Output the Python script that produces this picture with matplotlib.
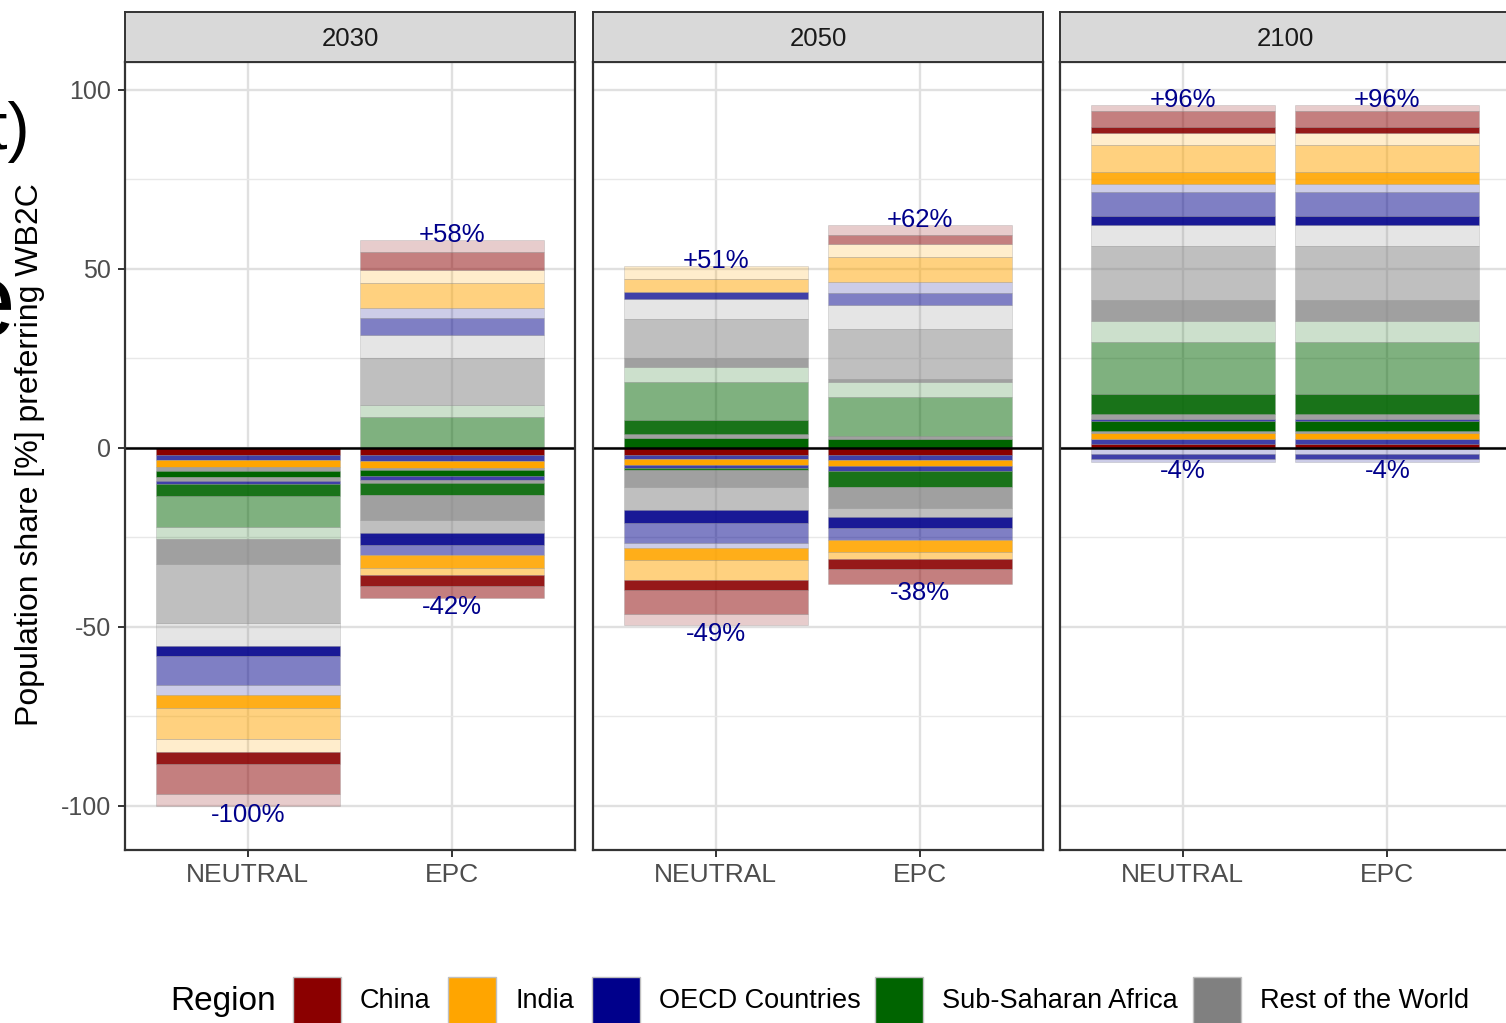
import matplotlib.pyplot as plt
from matplotlib.colors import to_rgba
from matplotlib.patches import Rectangle

plt.rcParams['font.family'] = ['Liberation Sans', 'DejaVu Sans']
plt.rcParams['axes.unicode_minus'] = False

years = ["2030", "2050", "2100"]
scenarios = ["NEUTRAL", "EPC"]

region_codes = ["C", "I", "O", "S", "R"]
region_labels = ["China", "India", "OECD Countries", "Sub-Saharan Africa", "Rest of the World"]
region_colors = ["#8B0000", "#FFA500", "#00008B", "#006400", "#808080"]

# preference tier of each population group: 1 = strongest ... 5 = weakest
tier_alpha = {1: 1.0, 2: 0.9, 3: 0.75, 4: 0.5, 5: 0.2}

# (region, tier, population share %) stacked outwards from zero
neutral_2030_up = []
neutral_2030_down = [
    ("C", 1, 2.0), ("O", 3, 1.3), ("I", 1, 2.1), ("R", 3, 1.1), ("S", 1, 1.6),
    ("R", 3, 1.0), ("O", 3, 0.9), ("S", 2, 3.5), ("S", 4, 8.6), ("S", 5, 3.3),
    ("R", 3, 7.0), ("R", 4, 16.4), ("R", 5, 6.5), ("O", 2, 2.8), ("O", 4, 8.0),
    ("O", 5, 3.0), ("I", 2, 3.4), ("I", 4, 8.8), ("I", 5, 3.7), ("C", 2, 3.3),
    ("C", 4, 8.4), ("C", 5, 3.3),
]
epc_2030_up = [
    ("S", 4, 8.6), ("S", 5, 3.4), ("R", 4, 13.0), ("R", 5, 6.5), ("O", 4, 4.7),
    ("O", 5, 2.8), ("I", 4, 7.2), ("I", 5, 3.4), ("C", 4, 5.2), ("C", 5, 3.4),
]
epc_2030_down = [
    ("C", 1, 2.1), ("O", 3, 1.6), ("I", 1, 1.9), ("R", 3, 0.6), ("S", 1, 1.7),
    ("O", 3, 1.0), ("R", 3, 0.9), ("S", 2, 3.4), ("R", 3, 6.8), ("R", 4, 3.7),
    ("O", 2, 3.3), ("O", 4, 2.8), ("I", 2, 3.7), ("I", 4, 1.9), ("C", 2, 3.3),
    ("C", 4, 3.3),
]
neutral_2050_up = [
    ("S", 1, 2.7), ("R", 3, 1.1), ("S", 2, 4.0), ("S", 4, 10.5), ("S", 5, 4.4),
    ("R", 3, 2.3), ("R", 4, 11.0), ("R", 5, 5.5), ("O", 3, 2.0), ("I", 4, 3.7),
    ("I", 5, 3.7),
]
neutral_2050_down = [
    ("C", 1, 1.9), ("O", 3, 1.2), ("I", 1, 1.8), ("O", 3, 0.7), ("S", 2, 0.7),
    ("R", 3, 4.7), ("R", 4, 6.3), ("O", 2, 3.7), ("O", 4, 5.6), ("O", 5, 1.4),
    ("I", 2, 3.4), ("I", 4, 5.4), ("C", 2, 2.8), ("C", 4, 6.8), ("C", 5, 3.0),
]
epc_2050_up = [
    ("S", 1, 2.4), ("R", 3, 0.9), ("S", 4, 11.0), ("S", 5, 4.2), ("R", 3, 0.7),
    ("R", 4, 14.1), ("R", 5, 6.5), ("O", 4, 3.5), ("O", 5, 3.0), ("I", 4, 7.1),
    ("I", 5, 3.6), ("C", 4, 2.6), ("C", 5, 2.8),
]
epc_2050_down = [
    ("C", 1, 1.9), ("O", 3, 1.4), ("I", 1, 1.7), ("O", 3, 1.4), ("S", 2, 4.4),
    ("R", 3, 5.9), ("R", 4, 2.7), ("O", 2, 3.1), ("O", 4, 3.3), ("I", 2, 3.4),
    ("I", 4, 1.7), ("C", 2, 2.8), ("C", 4, 4.2),
]
neutral_2100_up = [
    ("C", 1, 1.1), ("O", 3, 1.3), ("I", 1, 1.7), ("R", 3, 0.7), ("S", 1, 2.8),
    ("O", 3, 0.6), ("R", 3, 1.3), ("S", 2, 5.6), ("S", 4, 14.6), ("S", 5, 5.8),
    ("R", 3, 5.9), ("R", 4, 15.1), ("R", 5, 5.9), ("O", 2, 2.5), ("O", 4, 6.5),
    ("O", 5, 2.3), ("I", 2, 3.3), ("I", 4, 7.7), ("I", 5, 3.3), ("C", 2, 1.7),
    ("C", 4, 4.3), ("C", 5, 1.9),
]
neutral_2100_down = [("O", 5, 1.6), ("O", 3, 1.4), ("O", 5, 0.9)]
epc_2100_up = list(neutral_2100_up)
epc_2100_down = list(neutral_2100_down)

stacks = {
    ("2030", "NEUTRAL"): (neutral_2030_up, neutral_2030_down),
    ("2030", "EPC"): (epc_2030_up, epc_2030_down),
    ("2050", "NEUTRAL"): (neutral_2050_up, neutral_2050_down),
    ("2050", "EPC"): (epc_2050_up, epc_2050_down),
    ("2100", "NEUTRAL"): (neutral_2100_up, neutral_2100_down),
    ("2100", "EPC"): (epc_2100_up, epc_2100_down),
}

color_of = dict(zip(region_codes, region_colors))

W, H = 1506, 1023
fig = plt.figure(figsize=(W / 100, H / 100), dpi=100)


def box(left, top, right, bottom):
    return [left / W, 1 - bottom / H, (right - left) / W, (bottom - top) / H]


def draw_stack(ax, x, segs, sign):
    base = 0.0
    for reg, tier, share in segs:
        ax.bar(x, sign * share, bottom=base, width=0.9,
               color=to_rgba(color_of[reg], tier_alpha[tier]),
               edgecolor=(0.55, 0.55, 0.55, 0.3), linewidth=0.6, zorder=2)
        base += sign * share
    return base


panel_left = [125, 593, 1060]
for i, year in enumerate(years):
    x0 = panel_left[i]
    ax = fig.add_axes(box(x0, 62, x0 + 450, 850))
    ax.set_xlim(0.4, 2.6)
    ax.set_ylim(-112.3, 107.8)
    ax.set_yticks([-100, -50, 0, 50, 100])
    ax.set_yticks([-75, -25, 25, 75], minor=True)
    ax.set_xticks([1, 2])
    ax.set_xticklabels(scenarios)
    ax.set_axisbelow(True)
    ax.grid(which='major', color='#E0E0E0', linewidth=1.7)
    ax.grid(which='minor', axis='y', color='#E8E8E8', linewidth=1.0)
    ax.tick_params(which='minor', left=False)
    ax.tick_params(axis='x', length=5, width=1.4, color='#333333',
                   labelcolor='#4D4D4D', labelsize=19, pad=4)
    if i == 0:
        ax.tick_params(axis='y', length=5, width=1.4, color='#333333',
                       labelcolor='#4D4D4D', labelsize=18, pad=5)
    else:
        ax.tick_params(axis='y', left=False, labelleft=False)
    for sp in ax.spines.values():
        sp.set_color('#333333')
        sp.set_linewidth(1.6)
        sp.set_zorder(6)

    for j, sc in enumerate(scenarios):
        up, down = stacks[(year, sc)]
        top = draw_stack(ax, j + 1, up, 1)
        bottom = draw_stack(ax, j + 1, down, -1)
        if round(top) != 0:
            ax.annotate(f"+{round(top)}%", (j + 1, top), xytext=(0, 3.6),
                        textcoords='offset points', ha='center', va='center',
                        color='#00008B', fontsize=18.5, zorder=7)
        if round(bottom) != 0:
            ax.annotate(f"-{round(-bottom)}%", (j + 1, bottom), xytext=(0, -6.5),
                        textcoords='offset points', ha='center', va='center',
                        color='#00008B', fontsize=18.5, zorder=7)
    ax.axhline(0, color='black', linewidth=1.8, zorder=5)

    sax = fig.add_axes(box(x0, 12, x0 + 450, 62))
    sax.set_facecolor('#D9D9D9')
    sax.set_xticks([])
    sax.set_yticks([])
    for sp in sax.spines.values():
        sp.set_color('#333333')
        sp.set_linewidth(1.4)
    sax.text(0.5, 0.45, year, ha='center', va='center', fontsize=18.5,
             color='#1A1A1A', transform=sax.transAxes)

fig.text(30 / W, 1 - 455 / H, "Population share [%] preferring WB2C",
         rotation=90, ha='center', va='center', fontsize=23)

# pieces of the neighbouring panel heading
fig.text(30 / W, 1 - 149 / H, "t)", ha='right', va='baseline', fontsize=48)
fig.text(15 / W, 1 - 336 / H, "e", ha='right', va='baseline', fontsize=76)

# legend along the bottom
fig.text(170 / W, 1 - 1010 / H, "Region", ha='left', va='baseline', fontsize=24)
key_left = [293, 448, 592, 875, 1193]
for k, (lab, col) in enumerate(zip(region_labels, region_colors)):
    fig.patches.append(Rectangle((key_left[k] / W, 1 - 1025 / H), 48 / W, 48 / H,
                                 transform=fig.transFigure, facecolor=col,
                                 edgecolor='#BFBFBF', linewidth=1.0))
    fig.text((key_left[k] + 67) / W, 1 - 1008 / H, lab, ha='left',
             va='baseline', fontsize=19.5)

fig.savefig("out.png", dpi=100)
